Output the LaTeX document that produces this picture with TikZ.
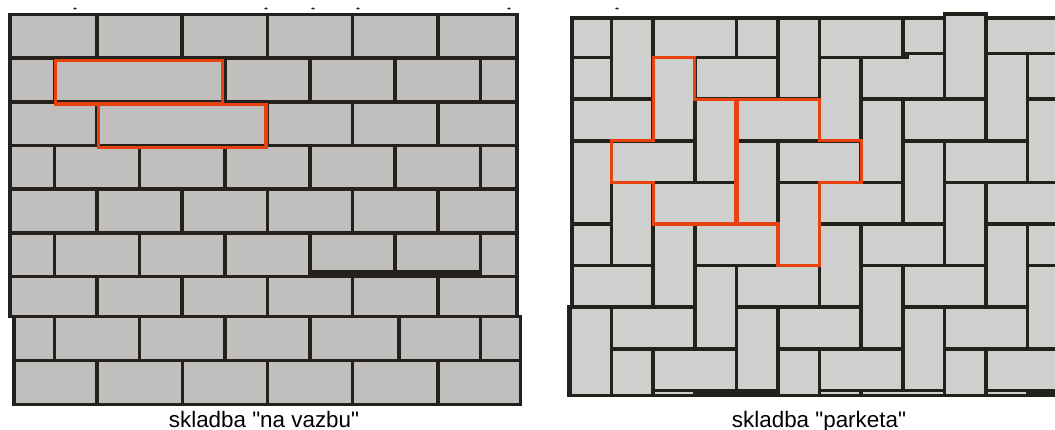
\documentclass[tikz,border=0pt]{standalone}
\usepackage{fontspec}
\setmainfont{Liberation Sans}
\definecolor{mortar}{RGB}{36,33,29}
\definecolor{grayL}{RGB}{192,191,189}
\definecolor{grayR}{RGB}{207,207,205}
\definecolor{hilite}{RGB}{232,66,14}
\begin{document}
\begin{tikzpicture}[x=1pt,y=-1pt,
  brickL/.style={fill=grayL, draw=mortar, line width=3.6pt},
  brickR/.style={fill=grayR, draw=mortar, line width=3.6pt},
  hl/.style={draw=hilite, line width=3.2pt, line join=miter},
  captext/.style={font=\fontsize{22.4}{24}\selectfont, anchor=base, inner sep=0pt}]
\useasboundingbox[fill=white] (0,0) rectangle (1055,430);

% ---------------- left panel: "na vazbu" ----------------
% upper block, odd rows
\foreach \ya/\yb in {14.5/58.2, 101.9/145.6, 189.3/233, 276.7/316.7} {
  \foreach \xa/\xb in {10/97, 97/182.2, 182.2/267.4, 267.4/352.6, 352.6/437.8, 437.8/517}
    \draw[brickL] (\xa,\ya) rectangle (\xb,\yb);
}
% upper block, even rows
\foreach \ya/\yb in {58.2/101.9, 145.6/189.3, 233/276.7} {
  \foreach \xa/\xb in {10/54.4, 54.4/139.6, 139.6/224.8, 224.8/310, 310/395.2, 395.2/480.4, 480.4/517}
    \draw[brickL] (\xa,\ya) rectangle (\xb,\yb);
}
% long bricks
\draw[brickL] (54.4,58.2) rectangle (224.8,101.9);
\draw[brickL] (97,101.9) rectangle (267.4,145.6);
% row 6 raised bottoms
\fill[mortar] (308.2,270.7) rectangle (482.2,278.5);
\draw[brickL] (310,233) rectangle (395.2,272.3);
\draw[brickL] (395.2,233) rectangle (480.4,272.3);
% lower block
\foreach \xa/\xb in {14/54.4, 54.4/139.6, 139.6/224.8, 224.8/310, 310/399, 399/480.4, 480.4/520.5}
  \draw[brickL] (\xa,316.7) rectangle (\xb,360.5);
\foreach \xa/\xb in {14/97, 97/182.5, 182.5/267.4, 267.4/352.6, 352.6/437.8, 437.8/520.5}
  \draw[brickL] (\xa,360.5) rectangle (\xb,404.5);
% highlighted bricks
\draw[hl] (55.5,60.5) rectangle (222.5,104);
\draw[hl] (98.5,104.3) rectangle (266,147.5);

% ---------------- right panel: "parketa" ----------------
\begin{scope}
\clip (571.7,18.3) -- (1060,18.3) -- (1060,395.5) -- (568.5,395.5) -- (568.5,307.3) -- (571.7,307.3) -- cycle;
\fill[mortar] (560,10) rectangle (1060,400);
\begin{scope}[shift={(570pt,-16.1pt)}, x=41.6pt, y=-41.6pt]
  \foreach \c/\r in {2/0, 6/0, -1/1, 3/1, 0/2, 4/2, 8/2, 1/3, 5/3, 9/3, 2/4, 6/4, 10/4,
                     -1/5, 3/5, 7/5, 11/5, 0/6, 4/6, 8/6, 1/7, 5/7, 9/7, 2/8, 6/8, 10/8, 7/9}
    \draw[brickR] (\c,\r) rectangle ++(2,1);
  \foreach \c/\r in {0/-1, 4/-1, 1/0, 5/0, 2/1, 6/1, 3/2, 7/2, 11/2, 0/3, 4/3, 8/3,
                     1/4, 5/4, 9/4, 2/5, 6/5, 10/5, 3/6, 7/6, 11/6, 4/7, 8/7,
                     1/8, 5/8, 9/8, 2/9, 6/9, 10/9}
    \draw[brickR] (\c,\r) rectangle ++(1,2);
  \draw[brickR] (0,7) rectangle (1,9.6);
  % irregular bricks at the top right
  \draw[brickR] (8,-1) rectangle (9,0.9);
  \draw[brickR] (10,0) rectangle (12,0.9);
  \draw[brickR] (10,0.9) rectangle (11,3);
  \draw[brickR] (11,0.9) rectangle (13,2);
  \draw[brickR] (7,1) -- (8.1,1) -- (8.1,0.9) -- (9,0.9) -- (9,2) -- (7,2) -- cycle;
\end{scope}
\end{scope}
% frame
\draw[mortar, line width=3.6pt] (1060,18.3) -- (571.7,18.3) -- (571.7,307.3) -- (568.5,307.3) -- (568.5,395.5) -- (1060,395.5);
\begin{scope}[shift={(570pt,-16.1pt)}, x=41.6pt, y=-41.6pt]
  \draw[brickR] (9,-0.05) rectangle (10,2);
  % highlighted groups
  \draw[hl] (2,1) -- (3,1) -- (3,2) -- (3.97,2) -- (3.97,5) -- (2,5) -- (2,4) -- (1,4) -- (1,3) -- (2,3) -- cycle;
  \draw[hl] (4.03,2) -- (6,2) -- (6,3) -- (7,3) -- (7,4) -- (6,4) -- (6,6) -- (5,6) -- (5,5) -- (4.03,5) -- cycle;
\end{scope}

% tiny marks at the top edge
\foreach \mx in {75,266,313,358,509,617}
  \fill[mortar] (\mx,8.5) ellipse (1.8 and 1.1);

% captions
\node[captext] (capL) at (264,427) {skladba \textquotedbl na vazbu\textquotedbl};
\node[captext] (capR) at (819,427) {skladba \textquotedbl parketa\textquotedbl};
\end{tikzpicture}
\end{document}
